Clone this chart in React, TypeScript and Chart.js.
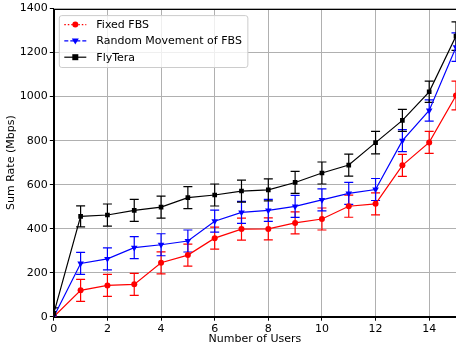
import React, { useEffect, useRef } from "react";
import { Chart, registerables } from "chart.js";

Chart.register(...registerables);

const xValues = [0, 1, 2, 3, 4, 5, 6, 7, 8, 9, 10, 11, 12, 13, 14, 15];
const xTicks = [0, 2, 4, 6, 8, 10, 12, 14];
const yTicks = [0, 200, 400, 600, 800, 1000, 1200, 1400];

const fixedFBS = [0, 120, 142, 147, 245, 280, 357, 398, 399, 426, 444, 502, 513, 688, 792, 1005];
const fixedErr = [0, 50, 50, 50, 50, 50, 50, 50, 50, 50, 50, 50, 50, 50, 50, 65];

const randomFBS = [0, 242, 263, 314, 327, 344, 434, 474, 483, 501, 531, 560, 578, 800, 937, 1225];
const randomErr = [0, 50, 50, 50, 50, 50, 50, 50, 50, 50, 50, 50, 50, 50, 48, 65];

const flyTera = [15, 456, 462, 483, 498, 541, 553, 571, 576, 610, 653, 689, 791, 892, 1022, 1275];
const flyErr = [25, 48, 50, 50, 50, 50, 50, 50, 50, 50, 50, 50, 51, 50, 48, 65];

const labels = ["Fixed FBS", "Random Movement of FBS", "FlyTera"];

const FONT = "DejaVu Sans";
const FS = 11;

const errorBarPlugin = {
  id: "errbars",
  beforeDatasetsDraw(chart: any) {
    const ctx = chart.ctx;
    const xs = chart.scales.x;
    const ys = chart.scales.y;
    const a = chart.chartArea;
    ctx.save();
    ctx.beginPath();
    ctx.rect(a.left, a.top, a.right - a.left, a.bottom - a.top);
    ctx.clip();
    chart.data.datasets.forEach((ds: any) => {
      const errs: number[] = ds.errors;
      ctx.strokeStyle = ds.borderColor;
      ctx.lineWidth = 1.2;
      ds.data.forEach((pt: any, j: number) => {
        const e = errs[j];
        if (!e) return;
        const v = pt.y;
        const px = xs.getPixelForValue(pt.x);
        const top = ys.getPixelForValue(v + e);
        const bot = ys.getPixelForValue(v - e);
        const cap = 4.5;
        ctx.beginPath();
        ctx.moveTo(px, top);
        ctx.lineTo(px, bot);
        ctx.moveTo(px - cap, top);
        ctx.lineTo(px + cap, top);
        ctx.moveTo(px - cap, bot);
        ctx.lineTo(px + cap, bot);
        ctx.stroke();
      });
    });
    ctx.restore();
  },
  afterDraw(chart: any) {
    const ctx = chart.ctx;
    const a = chart.chartArea;
    ctx.save();
    // frame
    ctx.strokeStyle = "#000";
    ctx.lineWidth = 1;
    ctx.strokeRect(Math.round(a.left) + 0.5, Math.round(a.top) + 0.5, Math.round(a.right - a.left), Math.round(a.bottom - a.top));
    // legend
    ctx.font = `${FS}px "${FONT}"`;
    const boxL = a.left + 5.5;
    const boxT = a.top + 7;
    const rowH = 16.3;
    const textX = boxL + 37;
    let maxW = 0;
    labels.forEach((l) => (maxW = Math.max(maxW, ctx.measureText(l).width)));
    const boxW = textX - boxL + maxW + 6;
    const boxH = rowH * 3 + 3;
    ctx.fillStyle = "rgba(255,255,255,0.8)";
    ctx.strokeStyle = "#cccccc";
    ctx.lineWidth = 1;
    ctx.beginPath();
    (ctx as any).roundRect(boxL, boxT, boxW, boxH, 2.5);
    ctx.fill();
    ctx.stroke();
    chart.data.datasets.forEach((ds: any, i: number) => {
      const cy = boxT + 9 + i * rowH;
      ctx.strokeStyle = ds.borderColor;
      ctx.lineWidth = 1.2;
      ctx.setLineDash(ds.legendDash);
      ctx.beginPath();
      ctx.moveTo(boxL + 5, cy);
      ctx.lineTo(boxL + 27, cy);
      ctx.stroke();
      ctx.setLineDash([]);
      const mx = boxL + 16;
      ctx.fillStyle = ds.borderColor;
      ctx.beginPath();
      if (ds.pointStyle === "circle") {
        ctx.arc(mx, cy, 3, 0, Math.PI * 2);
      } else if (ds.pointStyle === "rect") {
        ctx.rect(mx - 3, cy - 3, 6, 6);
      } else {
        ctx.moveTo(mx - 3.5, cy - 2.5);
        ctx.lineTo(mx + 3.5, cy - 2.5);
        ctx.lineTo(mx, cy + 3.5);
        ctx.closePath();
      }
      ctx.fill();
      ctx.fillStyle = "#000";
      ctx.textBaseline = "middle";
      ctx.textAlign = "left";
      ctx.fillText(labels[i], textX, cy + 0.5);
    });
    ctx.restore();
  },
};

export default function App() {
  const ref = useRef<HTMLCanvasElement>(null);
  useEffect(() => {
    document.body.style.margin = "0";
    document.body.style.overflow = "hidden";
    const mk = (vals: number[]) => vals.map((v, i) => ({ x: xValues[i], y: v }));
    const base = [
      {
        label: labels[0],
        values: fixedFBS,
        errors: fixedErr,
        borderColor: "#ff0000",
        backgroundColor: "#ff0000",
        pointStyle: "circle",
        pointRadius: 3,
        legendDash: [1.5, 2],
        order: 2,
      },
      {
        label: labels[1],
        values: randomFBS,
        errors: randomErr,
        borderColor: "#0000ff",
        backgroundColor: "#0000ff",
        pointStyle: "triangle",
        rotation: 180,
        pointRadius: 3.8,
        legendDash: [4, 2],
        order: 1,
      },
      {
        label: labels[2],
        values: flyTera,
        errors: flyErr,
        borderColor: "#000000",
        backgroundColor: "#000000",
        pointStyle: "rect",
        pointRadius: 3.3,
        legendDash: [],
        order: 0,
      },
    ];
    const chart = new Chart(ref.current!, {
      type: "line",
      data: {
        datasets: base.map((d: any) => ({
          ...d,
          data: mk(d.values),
          borderWidth: 1.2,
          pointBorderWidth: 0,
          tension: 0,
          fill: false,
        })) as any,
      },
      options: {
        responsive: false,
        animation: false,
        events: [],
        layout: { padding: { top: 4.5, right: 2, left: 0, bottom: 0 } },
        plugins: { legend: { display: false }, tooltip: { enabled: false } },
        scales: {
          x: {
            type: "linear",
            min: 0,
            max: 15,
            afterBuildTicks: (s: any) => {
              s.ticks = xTicks.map((v) => ({ value: v }));
            },
            afterFit: (s: any) => {
              s.height = 33.3;
            },
            ticks: { font: { family: FONT, size: FS }, color: "#000", padding: 2, maxRotation: 0, callback: (v: any) => String(v) },
            grid: { color: "#b0b0b0", lineWidth: 1, tickColor: "#000", tickLength: 4 },
            border: { display: true, color: "#000", width: 1 },
            title: {
              display: true,
              text: "Number of Users",
              font: { family: FONT, size: FS },
              color: "#000",
              padding: { top: 0, bottom: 4 },
            },
          },
          y: {
            type: "linear",
            min: 0,
            max: 1400,
            afterBuildTicks: (s: any) => {
              s.ticks = yTicks.map((v) => ({ value: v }));
            },
            afterFit: (s: any) => {
              s.width = 53.8;
            },
            ticks: { font: { family: FONT, size: FS }, color: "#000", padding: 2, callback: (v: any) => String(v) },
            grid: { color: "#b0b0b0", lineWidth: 1, tickColor: "#000", tickLength: 4 },
            border: { display: true, color: "#000", width: 1 },
            title: {
              display: true,
              text: "Sum Rate (Mbps)",
              font: { family: FONT, size: FS },
              color: "#000",
              padding: { top: 5, bottom: 0 },
            },
          },
        },
      } as any,
      plugins: [errorBarPlugin],
    });
    return () => chart.destroy();
  }, []);
  return (
    <div style={{ position: "fixed", left: 0, top: 0, width: 460, height: 350 }}>
      <canvas ref={ref} width={460} height={350} style={{ width: 460, height: 350 }} />
    </div>
  );
}
